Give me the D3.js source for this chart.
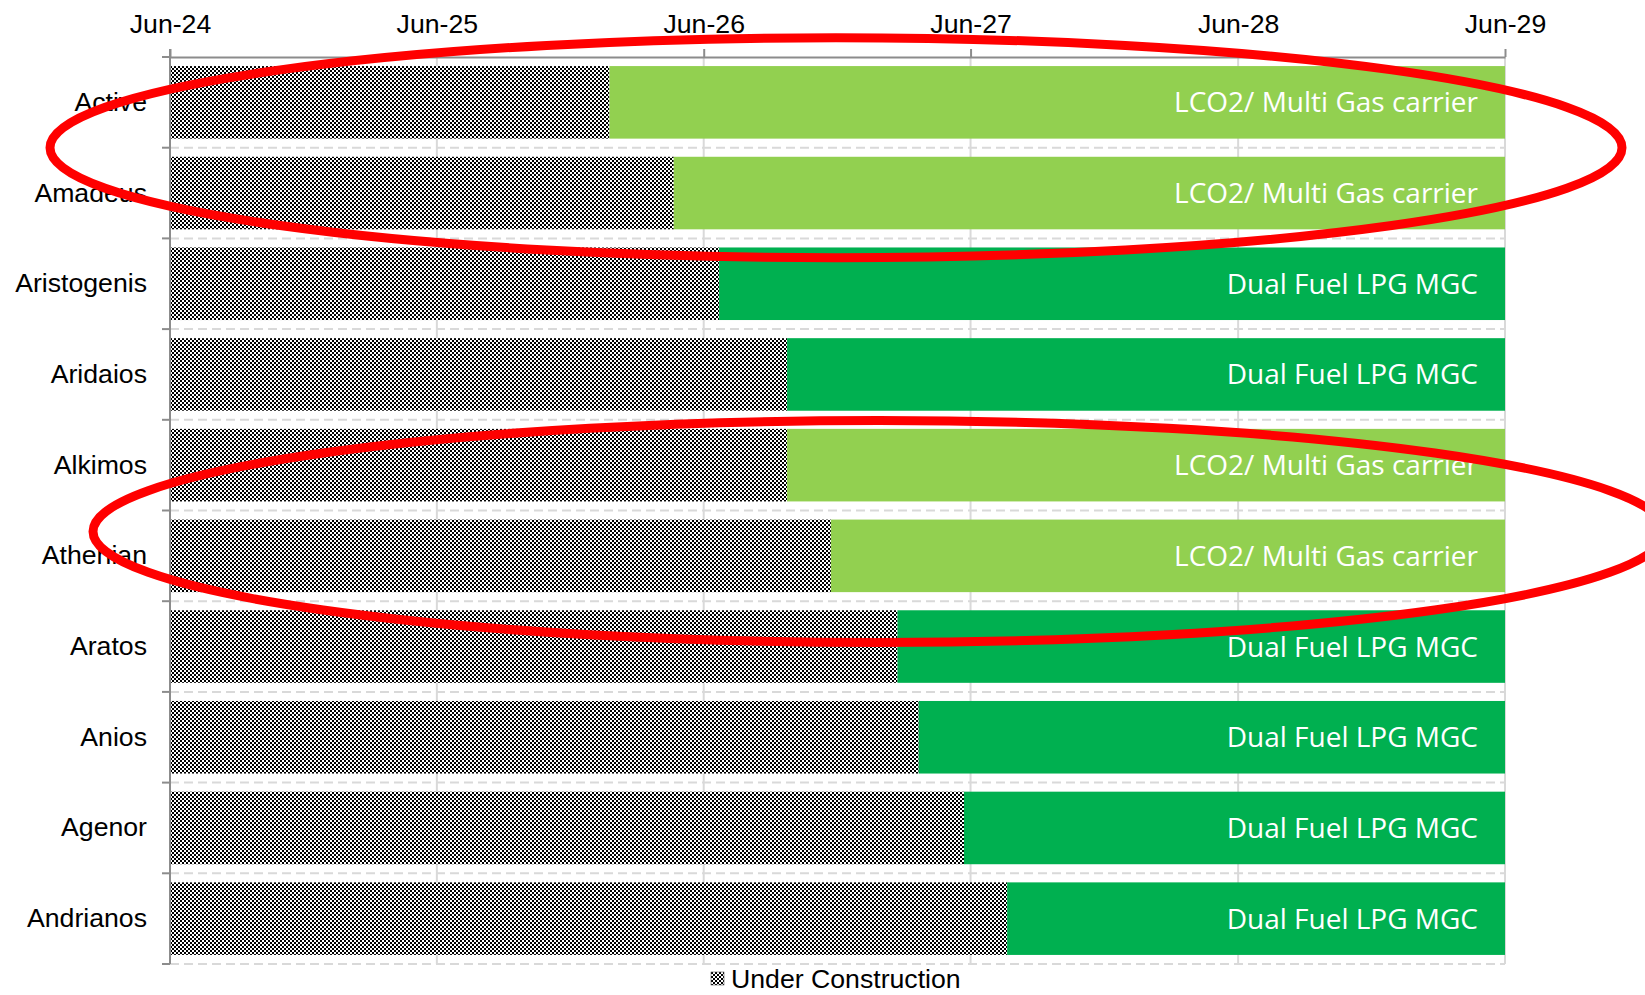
<!DOCTYPE html>
<html>
<head>
<meta charset="utf-8">
<script src="https://cdn.jsdelivr.net/npm/d3@7"></script>
<style>
  body { margin: 0; background: #fff; }
  svg { display: block; }
</style>
</head>
<body>
<div id="chart"></div>
<script>
const ships = ['Active', 'Amadeus', 'Aristogenis', 'Aridaios', 'Alkimos', 'Athenian', 'Aratos', 'Anios', 'Agenor', 'Andrianos']
// date construction ends (delivery)
const delivery = ['2026-01-23', '2026-04-21', '2026-06-22', '2026-09-23', '2026-09-23', '2026-11-22', '2027-02-21', '2027-03-22', '2027-05-23', '2027-07-21']
const shipType = ['LCO2/ Multi Gas carrier', 'LCO2/ Multi Gas carrier', 'Dual Fuel LPG MGC', 'Dual Fuel LPG MGC', 'LCO2/ Multi Gas carrier', 'LCO2/ Multi Gas carrier', 'Dual Fuel LPG MGC', 'Dual Fuel LPG MGC', 'Dual Fuel LPG MGC', 'Dual Fuel LPG MGC']
const startDate = '2024-06-01'
const endDate = '2029-06-01'
const tickDates = ['2024-06-01', '2025-06-01', '2026-06-01', '2027-06-01', '2028-06-01', '2029-06-01']
const legendLabel = 'Under Construction'
// rows circled in red on the original
const circled = [['Active', 'Amadeus'], ['Alkimos', 'Athenian']]

const W = 1645, H = 995
const margin = {top: 57, left: 170, right: 140, bottom: 31}
const parse = d3.timeParse('%Y-%m-%d')
const typeColor = {'LCO2/ Multi Gas carrier': '#92d050', 'Dual Fuel LPG MGC': '#00b050'}

const rows = ships.map((s, i) => ({name: s, done: parse(delivery[i]), type: shipType[i]}))

const svg = d3.select('#chart').append('svg')
  .attr('width', W)
  .attr('height', H)

// checkerboard fill for the construction period
const defs = svg.append('defs')
const pat = defs.append('pattern')
  .attr('id', 'checker')
  .attr('patternUnits', 'userSpaceOnUse')
  .attr('width', 4).attr('height', 4)
pat.append('rect').attr('width', 4).attr('height', 4).attr('fill', '#fff')
pat.append('rect').attr('width', 2).attr('height', 2).attr('fill', '#000')
pat.append('rect').attr('x', 2).attr('y', 2).attr('width', 2).attr('height', 2).attr('fill', '#000')

const x = d3.scaleTime()
  .domain([parse(startDate), parse(endDate)])
  .range([margin.left, W - margin.right])

const y = d3.scaleBand()
  .domain(ships)
  .range([margin.top, H - margin.bottom])
  .paddingInner(0.2)
  .paddingOuter(0.1)

const step = y.step()
const bounds = ships.map(s => y(s) - step * 0.1).concat([y.range()[1]])

// vertical gridlines
svg.append('g')
  .selectAll('line')
  .data(tickDates.slice(1))
  .join('line')
  .attr('x1', d => x(parse(d))).attr('x2', d => x(parse(d)))
  .attr('y1', margin.top).attr('y2', y.range()[1])
  .attr('stroke', '#d9d9d9')
  .attr('stroke-width', 2)

// horizontal dashed gridlines at category boundaries
svg.append('g')
  .selectAll('line')
  .data(bounds.slice(1))
  .join('line')
  .attr('x1', margin.left).attr('x2', W - margin.right)
  .attr('y1', d => d).attr('y2', d => d)
  .attr('stroke', '#d9d9d9')
  .attr('stroke-width', 2)
  .attr('stroke-dasharray', '9,5')

// bars
const barG = svg.append('g')
barG.selectAll('.uc')
  .data(rows)
  .join('rect')
  .attr('class', 'uc')
  .attr('x', x(parse(startDate)))
  .attr('y', d => y(d.name))
  .attr('width', d => x(d.done) - x(parse(startDate)))
  .attr('height', y.bandwidth())
  .attr('fill', 'url(#checker)')

barG.selectAll('.op')
  .data(rows)
  .join('rect')
  .attr('class', 'op')
  .attr('x', d => x(d.done))
  .attr('y', d => y(d.name))
  .attr('width', d => x(parse(endDate)) - x(d.done))
  .attr('height', y.bandwidth())
  .attr('fill', d => typeColor[d.type])

barG.selectAll('.lbl')
  .data(rows)
  .join('text')
  .attr('class', 'lbl')
  .attr('x', x(parse(endDate)) - 27)
  .attr('y', d => y(d.name) + y.bandwidth() / 2 - 1)
  .attr('text-anchor', 'end')
  .attr('dominant-baseline', 'central')
  .attr('fill', '#fff')
  .style('font-family', '"Open Sans", sans-serif')
  .style('font-size', '28px')
  .text(d => d.type)

// top axis
const xAxis = d3.axisTop(x)
  .tickValues(tickDates.map(parse))
  .tickFormat(d3.timeFormat('%b-%y'))
  .tickSizeInner(8)
  .tickSizeOuter(0)
  .tickPadding(16)
const xg = svg.append('g')
  .attr('transform', 'translate(0,' + margin.top + ')')
  .call(xAxis)
xg.select('.domain').attr('stroke', '#8c8c8c').attr('stroke-width', 2)
xg.selectAll('.tick line').attr('stroke', '#8c8c8c').attr('stroke-width', 2)
xg.selectAll('.tick text')
  .attr('fill', '#000')
  .style('font-family', '"Liberation Sans", Arial, sans-serif')
  .style('font-size', '26.67px')

// left axis, labels at centres, ticks between categories
const yAxis = d3.axisLeft(y).tickSize(0).tickPadding(23)
const yg = svg.append('g')
  .attr('transform', 'translate(' + margin.left + ',0)')
  .call(yAxis)
yg.select('.domain').remove()
yg.selectAll('.tick text')
  .attr('fill', '#000')
  .style('font-family', '"Liberation Sans", Arial, sans-serif')
  .style('font-size', '26.67px')
yg.append('line')
  .attr('x1', 0).attr('x2', 0)
  .attr('y1', margin.top - 8).attr('y2', y.range()[1])
  .attr('stroke', '#8c8c8c').attr('stroke-width', 2)
yg.selectAll('.btick')
  .data(bounds)
  .join('line')
  .attr('class', 'btick')
  .attr('x1', -8).attr('x2', 0)
  .attr('y1', d => d).attr('y2', d => d)
  .attr('stroke', '#8c8c8c').attr('stroke-width', 2)

// legend
const lg = svg.append('g').attr('transform', 'translate(711,972)')
lg.append('rect')
  .attr('width', 13).attr('height', 13)
  .attr('fill', 'url(#checker)')
  .attr('stroke', '#555').attr('stroke-width', 0.6)
lg.append('text')
  .attr('x', 20).attr('y', 7)
  .attr('dominant-baseline', 'central')
  .style('font-family', '"Liberation Sans", Arial, sans-serif')
  .style('font-size', '26.67px')
  .text(legendLabel)

// red hand-drawn style ellipses
const ellipses = [
  {cx: 836, cy: y(circled[0][1]) - step * 0.1, rx: 786, ry: 110},
  {cx: 879, cy: y(circled[1][1]) - step * 0.1 + 21, rx: 786, ry: 111}
]
svg.append('g')
  .selectAll('ellipse')
  .data(ellipses)
  .join('ellipse')
  .attr('cx', d => d.cx).attr('cy', d => d.cy)
  .attr('rx', d => d.rx).attr('ry', d => d.ry)
  .attr('fill', 'none')
  .attr('stroke', '#ff0000')
  .attr('stroke-width', 9)
</script>
</body>
</html>
